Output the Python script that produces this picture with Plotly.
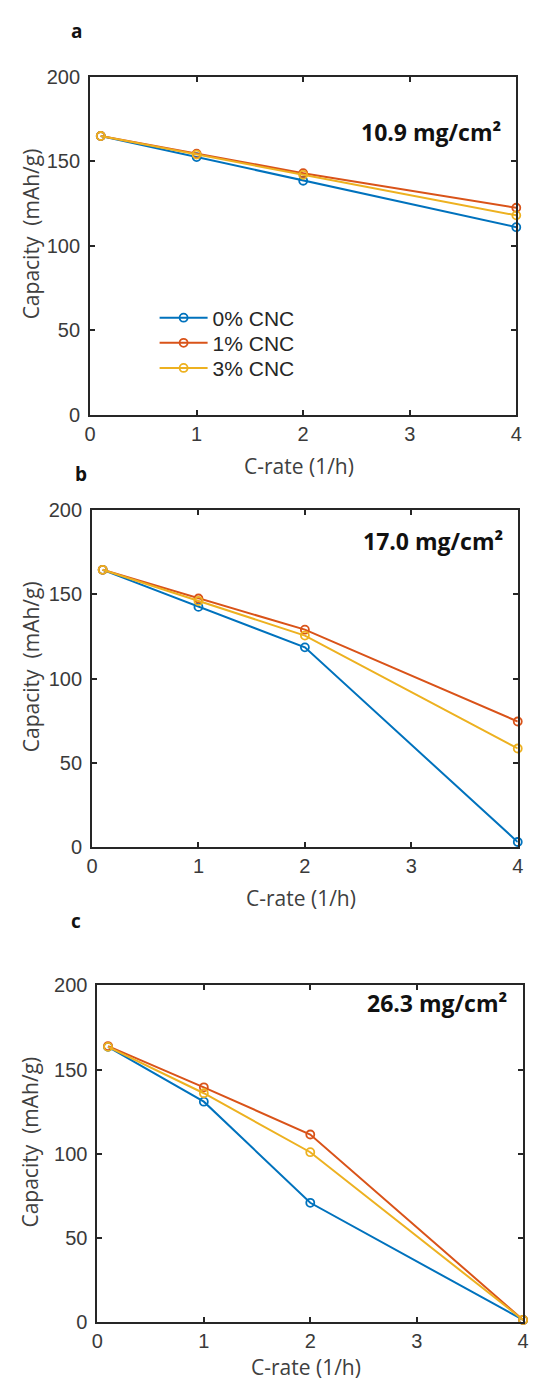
import plotly.graph_objects as go

# ---- data ----
c_rate = [0.1, 1, 2, 4]
series_names = ["0% CNC", "1% CNC", "3% CNC"]
colors = ["#0072BD", "#D95319", "#EDB120"]

a_0 = [165.0, 152.5, 138.5, 111.0]
a_1 = [165.0, 154.5, 143.0, 122.5]
a_3 = [165.0, 154.0, 142.0, 118.0]

b_0 = [164.5, 142.5, 118.5, 3.0]
b_1 = [164.5, 147.5, 129.0, 74.5]
b_3 = [164.5, 146.0, 125.5, 58.5]

c_0 = [163.5, 131.0, 71.0, 1.5]
c_1 = [164.0, 139.5, 111.5, 1.5]
c_3 = [163.5, 136.0, 101.0, 1.5]

panel_letters = ["a", "b", "c"]
loadings = ["10.9 mg/cm²", "17.0 mg/cm²", "26.3 mg/cm²"]
x_ticks = [0, 1, 2, 3, 4]
y_ticks = [0, 50, 100, 150, 200]

W, H = 535, 1393

def px(x):
    return x / W

def py(y):
    return 1 - y / H

# panel boxes in pixels: (left, right, top, bottom)
boxes = [(86, 522, 67, 410), (88, 523.5, 507, 849.5), (93.5, 529, 990, 1332.5)]
panels = [(a_0, a_1, a_3), (b_0, b_1, b_3), (c_0, c_1, c_3)]
legend_ids = ["legend", "legend2", "legend3"]
legend_rows = [312, 337.5, 363]

fig = go.Figure()

for i, (vals, box) in enumerate(zip(panels, boxes)):
    sfx = "" if i == 0 else str(i + 1)
    for j, v in enumerate(vals):
        fig.add_trace(go.Scatter(
            x=c_rate, y=v, mode="lines+markers", name=series_names[j],
            line=dict(color=colors[j], width=2),
            marker=dict(symbol="circle-open", size=8, color=colors[j], line=dict(width=1.8, color=colors[j])),
            xaxis="x" + sfx, yaxis="y" + sfx, cliponaxis=False,
            showlegend=(i == 0), legend=legend_ids[j],
        ))

axis_common = dict(
    showline=True, linecolor="#262626", linewidth=2, mirror="ticks",
    ticks="inside", ticklen=5, tickwidth=1.5, tickcolor="#262626",
    showgrid=False, zeroline=False,
    tickfont=dict(family="Liberation Sans, Arial, sans-serif", size=20, color="#3a3a3a"),
)

layout = dict(
    width=W, height=H, autosize=False,
    margin=dict(l=0, r=0, t=0, b=0),
    paper_bgcolor="white", plot_bgcolor="white",
    showlegend=True,
)
for lid, row in zip(legend_ids, legend_rows):
    layout[lid] = dict(
        x=px(152), y=py(row), xanchor="left", yanchor="middle",
        bgcolor="rgba(0,0,0,0)", borderwidth=0,
        font=dict(family="Liberation Sans, Arial, sans-serif", size=21, color="#262626"),
        itemwidth=48, tracegroupgap=0,
    )

annotations = []
for i, box in enumerate(boxes):
    l, r, t, b = box
    sfx = "" if i == 0 else str(i + 1)
    layout["xaxis" + sfx] = dict(
        axis_common, domain=[px(l), px(r)], range=[0, 4], tickvals=x_ticks,
        anchor="y" + sfx, ticklabelstandoff=0,
    )
    layout["yaxis" + sfx] = dict(
        axis_common, domain=[py(b), py(t)], range=[0, 200], tickvals=y_ticks,
        anchor="x" + sfx, ticklabelstandoff=4,
    )
    # y title
    annotations.append(dict(
        text="Capacity  (mAh/g)", textangle=-90, xref="paper", yref="paper",
        x=px(25), y=py((t + b) / 2 - 12), showarrow=False, xanchor="center", yanchor="middle",
        font=dict(family="Open Sans, sans-serif", size=21, color="#404040"),
    ))
    # x title
    annotations.append(dict(
        text="C-rate (1/h)", xref="paper", yref="paper",
        x=px((l + r) / 2 - 4), y=py(min(b + 52, 1378)), showarrow=False, xanchor="center", yanchor="middle",
        font=dict(family="Open Sans, sans-serif", size=21, color="#404040"),
    ))

# loading labels
load_pos = [(508, 123), (510, 538), (515, 1008)]
for txt, (xr, yc) in zip(loadings, load_pos):
    annotations.append(dict(
        text="<b>" + txt + "</b>", xref="paper", yref="paper", x=px(xr), y=py(yc),
        xanchor="right", yanchor="middle", showarrow=False,
        font=dict(family="Open Sans, sans-serif", size=23, color="#111111"),
    ))

# panel letters
letter_pos = [(72, 20), (77, 470), (72, 925)]
for txt, (xc, yc) in zip(panel_letters, letter_pos):
    annotations.append(dict(
        text="<b>" + txt + "</b>", xref="paper", yref="paper", x=px(xc), y=py(yc),
        xanchor="center", yanchor="middle", showarrow=False,
        font=dict(family="Open Sans, sans-serif", size=19, color="#111111"),
    ))

layout["annotations"] = annotations
fig.update_layout(**layout)
fig.write_html(
    "out.html",
    config={"displayModeBar": False},
    post_script="document.body.style.margin='0';document.body.style.overflow='hidden';",
)
